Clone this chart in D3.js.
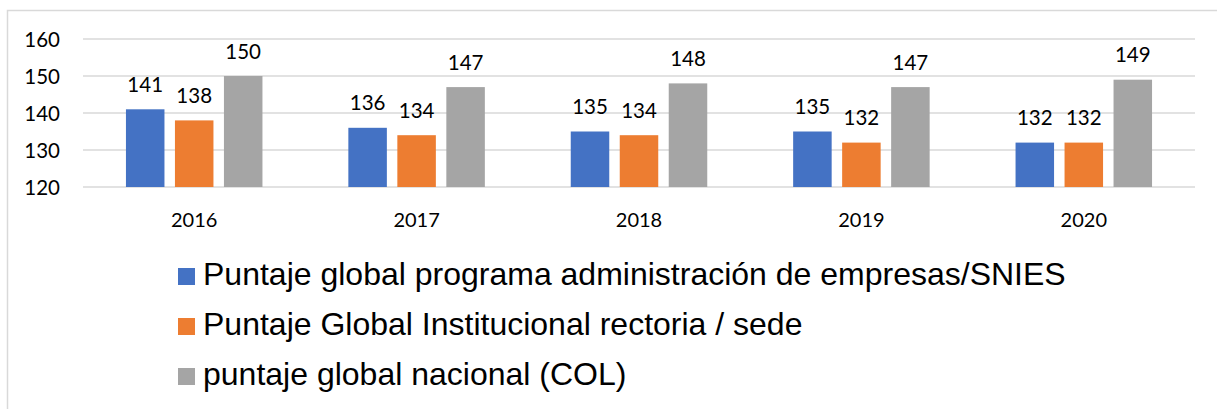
<!DOCTYPE html>
<html>
<head>
<meta charset="utf-8">
<script src="https://cdn.jsdelivr.net/npm/d3@7"></script>
<style>
  body { margin: 0; background: #fff; }
  svg { display: block; }
</style>
</head>
<body>
<script>
const years = ["2016", "2017", "2018", "2019", "2020"];
const seriesNames = [
    "Puntaje global programa administración de empresas/SNIES",
    "Puntaje Global Institucional rectoria / sede",
    "puntaje global nacional (COL)"
];
const programa = [141, 136, 135, 135, 132];
const institucional = [138, 134, 134, 132, 132];
const nacional = [150, 147, 148, 147, 149];
const yTicks = [120, 130, 140, 150, 160];
const colors = ["#4472C4", "#ED7D31", "#A5A5A5"];

const width = 1217, height = 409;
const allSeries = [programa, institucional, nacional];
const numFont = "Lato, 'Open Sans', sans-serif";

const svg = d3.select("body").append("svg")
    .attr("width", width)
    .attr("height", height);

// chart frame (right and bottom edges fall outside the picture)
svg.append("rect")
    .attr("x", 7.5).attr("y", 10.5)
    .attr("width", 1220).attr("height", 420)
    .attr("fill", "none")
    .attr("stroke", "#d9d9d9")
    .attr("stroke-width", 1.5);

const x = d3.scaleBand()
    .domain(years)
    .range([83, 1195]);

// three bars per year, 38.5 wide, 49 apart
const inner = d3.scaleBand()
    .domain([0, 1, 2])
    .range([x.bandwidth() / 2 - 68.25, x.bandwidth() / 2 + 68.25])
    .paddingInner(0.214);

const y = d3.scaleLinear()
    .domain([120, 160])
    .range([187, 39]);

// gridlines
svg.append("g")
    .selectAll("line")
    .data(yTicks)
    .join("line")
    .attr("x1", 83).attr("x2", 1195)
    .attr("y1", d => y(d)).attr("y2", d => y(d))
    .attr("stroke", "#d9d9d9")
    .attr("stroke-width", 1.3);

// y labels
svg.append("g")
    .selectAll("text")
    .data(yTicks)
    .join("text")
    .attr("x", 60)
    .attr("y", d => y(d) + 7.5)
    .attr("text-anchor", "end")
    .attr("font-family", numFont)
    .attr("font-size", 20.5)
    .attr("fill", "#000")
    .text(d => d);

// x labels
svg.append("g")
    .selectAll("text")
    .data(years)
    .join("text")
    .attr("x", d => x(d) + x.bandwidth() / 2)
    .attr("y", 226.5)
    .attr("text-anchor", "middle")
    .attr("font-family", numFont)
    .attr("font-size", 20)
    .attr("fill", "#000")
    .text(d => d);

// bars
const groups = svg.append("g")
    .selectAll("g")
    .data(years)
    .join("g")
    .attr("transform", d => `translate(${x(d)},0)`);

groups.selectAll("rect")
    .data((d, i) => allSeries.map((s, k) => ({ k: k, v: s[i] })))
    .join("rect")
    .attr("x", d => inner(d.k))
    .attr("width", inner.bandwidth())
    .attr("y", d => y(d.v))
    .attr("height", d => y(120) - y(d.v))
    .attr("fill", d => colors[d.k]);

// value labels
groups.selectAll("text")
    .data((d, i) => allSeries.map((s, k) => ({ k: k, v: s[i] })))
    .join("text")
    .attr("x", d => inner(d.k) + inner.bandwidth() / 2)
    .attr("y", d => y(d.v) - 17.5)
    .attr("text-anchor", "middle")
    .attr("font-family", numFont)
    .attr("font-size", 20.5)
    .attr("fill", "#000")
    .text(d => d.v);

// legend
const legend = svg.append("g")
    .selectAll("g")
    .data(seriesNames)
    .join("g")
    .attr("transform", (d, i) => `translate(178,${268 + i * 50})`);

legend.append("rect")
    .attr("width", 17).attr("height", 17)
    .attr("fill", (d, i) => colors[i]);

legend.append("text")
    .attr("x", 25)
    .attr("y", 16.5)
    .attr("font-family", "'Liberation Sans', Arial, sans-serif")
    .attr("font-size", 32)
    .attr("fill", "#000")
    .text(d => d);
</script>
</body>
</html>
